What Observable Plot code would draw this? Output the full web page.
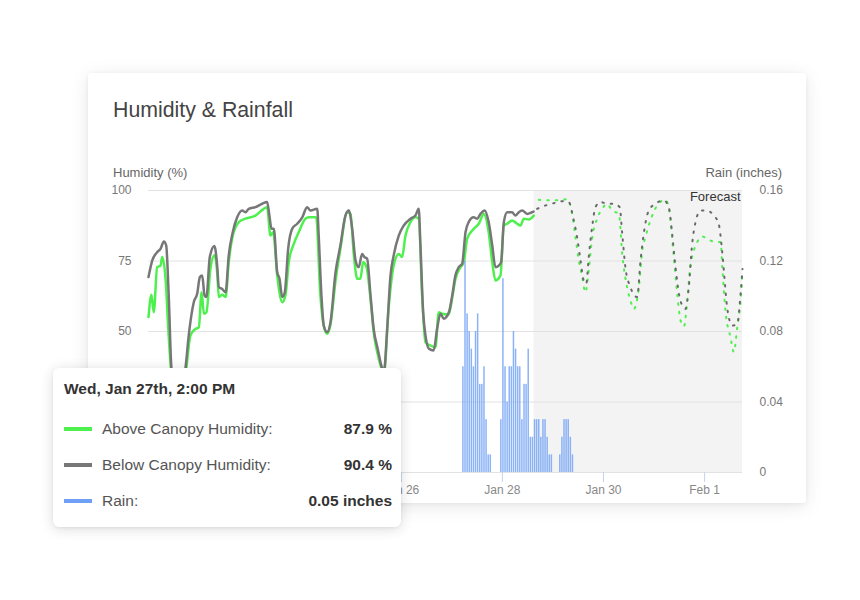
<!DOCTYPE html>
<html>
<head>
<meta charset="utf-8">
<script src="https://cdn.jsdelivr.net/npm/d3@7"></script>
<script src="https://cdn.jsdelivr.net/npm/@observablehq/plot@0.6"></script>
<style>
  html, body { margin: 0; padding: 0; background: #ffffff; }
  body { width: 860px; height: 600px; position: relative; overflow: hidden; font-family: "Liberation Sans", Arial, sans-serif; }
  .card { position: absolute; left: 88px; top: 73px; width: 718px; height: 430px; background: #fff; border-radius: 3px;
          box-shadow: 0 3px 18px rgba(0,0,0,0.10), 0 1px 4px rgba(0,0,0,0.05); }
  .title { position: absolute; left: 113px; top: 98px; font-size: 21.3px; color: #444; white-space: nowrap; }
  .axlab { position: absolute; top: 165px; font-size: 13px; color: #666; white-space: nowrap; }
  #chart { position: absolute; left: 88px; top: 150px; }
  .tip { position: absolute; left: 53px; top: 368px; width: 348px; height: 159px; background: #fff; border-radius: 6px;
         box-shadow: 0 2px 14px rgba(0,0,0,0.14), 0 1px 3px rgba(0,0,0,0.06); }
  .tip .head { position: absolute; left: 11px; top: 12px; font-size: 15.5px; font-weight: bold; color: #333; white-space: nowrap; }
  .tip .row { position: absolute; left: 11px; width: 328px; height: 20px; }
  .tip .sw { position: absolute; left: 0; top: 8px; width: 28px; height: 4px; }
  .tip .lab { position: absolute; left: 38px; top: 1px; font-size: 15.5px; color: #555; white-space: nowrap; }
  .tip .val { position: absolute; right: 0; top: 1px; font-size: 15.5px; font-weight: bold; color: #333; white-space: nowrap; }
</style>
</head>
<body>
<div class="card"></div>
<div class="title">Humidity &amp; Rainfall</div>
<div class="axlab" style="left:113px">Humidity (%)</div>
<div class="axlab" style="right:78px">Rain (inches)</div>
<div id="chart"></div>
<div class="tip" id="tip"></div>
<script>
// ---- data (hours since Jan 21, 2021 00:00) ----
const startDate = new Date(2021, 0, 21, 0, 0);
const endHour = 282;
const forecastStartHour = 183;

const aboveObserved = [[0,55.1],[1.4,63],[2.5,56.8],[4.1,72.8],[5.7,73.4],[6.5,76.4],[8.1,68.7],[9.4,50.9],[11,34],[13.5,27],[16,29],[17.8,36],[19.9,48.6],[22.3,50.9],[23.9,51.5],[25.2,63.9],[26.3,56.3],[27.5,56.8],[29.4,72.2],[31.3,77],[32.6,71],[33.4,62.2],[35,63],[36.6,62.2],[38.1,74.6],[40,84],[42.9,88.8],[46,90],[50.8,91.1],[54.7,93.5],[56.3,94.1],[57.9,84],[59.2,85.2],[61.1,69.9],[63.5,60.4],[65,62.8],[66.6,74.6],[69,81.1],[71.3,85.2],[74.5,90],[76.1,90.5],[79.6,90.5],[81.6,62.8],[83.2,52],[84.8,49.2],[86.4,52.5],[88.8,68],[91.1,79.3],[94.3,92.3],[95.9,91.7],[97.5,77],[99.1,68.7],[100.6,68.7],[101.9,74.6],[103.5,72.8],[105.4,61.6],[106.9,49.8],[108.8,42],[110.9,36.5],[111.8,35.5],[114.1,59.2],[116.4,73.4],[118.8,77.5],[120.4,76.4],[122,84],[124.4,88.8],[126.7,90.5],[128.3,90],[129.9,62.8],[131.5,46.2],[133.9,45],[136.2,44.4],[137.8,56.8],[139.4,56.3],[142.5,56],[144.2,62],[145.7,68.5],[148.1,72.8],[149.7,74.6],[151.3,82.9],[154.4,86.4],[156.8,88.2],[159.2,91.7],[161.5,85.2],[163.2,74.6],[164.7,68.1],[167.1,69.9],[168.7,87.6],[170.3,88.2],[172.6,89.4],[175,88.2],[176.6,87.6],[178.2,90],[180.5,89.7],[182.9,91.1]];

const belowObserved = [[0,69.3],[1.8,75.2],[4.1,78.1],[5.7,79.3],[7.3,81.9],[8.4,80.5],[9.6,62.8],[10.9,36.9],[13,29],[15,28],[17.6,37.3],[19.1,48.6],[21.5,60.4],[23.1,63.4],[24.4,69.3],[25.5,69.9],[26.6,62.8],[27.5,62.2],[29.1,76.4],[31.3,80.3],[32.6,73.4],[33.4,65.7],[35,65.1],[36.6,63.9],[38.1,77],[40,85.2],[42.1,90.5],[44.5,92.9],[46,92.3],[47.6,93.5],[50.8,94.1],[54,95.3],[56.3,95.9],[57.4,91.1],[58.4,86.4],[59.5,86.4],[61.1,71],[62.2,68.7],[63.5,62.2],[64.7,63.9],[66.3,79.3],[68.2,86.4],[70.6,88.2],[73,90.5],[75.3,94.1],[76.9,92.9],[80.1,93.5],[80.8,84],[82.1,62.8],[83.2,52.1],[84.8,49.8],[86.4,53.3],[88.8,71],[91.1,80.5],[93.5,91.1],[95.1,92.9],[96.7,86.4],[98.3,75.2],[99.8,72.8],[101.4,77.5],[102.5,76.4],[103.8,75.8],[105.4,62.8],[106.9,50.9],[108.8,43.9],[110.9,37],[111.8,36],[113.3,50.9],[114.9,69.9],[116.4,77],[118.8,84],[121.2,87.6],[124.4,90],[126.7,91.1],[128.3,93.5],[129.1,80.5],[130.4,56.8],[131.5,48.6],[133.1,43.9],[135.4,43.3],[137,50.9],[138.6,56.3],[140.2,54.5],[142.6,56.8],[144.2,62.8],[145.7,69.9],[147.3,72.8],[148.9,74],[150.5,85.2],[152,88.8],[154.4,90.5],[156,90],[157.6,91.7],[159.6,92.9],[161.5,88.8],[163.2,80.5],[164.7,72.8],[166.3,73.4],[167.4,74.6],[168.7,88.8],[170.3,92.3],[172.6,92.3],[174.2,91.1],[175.8,92.3],[177.4,92.9],[179.8,91.7],[182.1,92.3],[182.8,92.5]];

const aboveForecast = [[185.3,96.7],[189.3,96.5],[195.6,96.5],[198.8,97],[201.1,91.7],[202.7,83.4],[204.3,75.2],[205.9,69.3],[207.4,63.9],[209,71.6],[210.6,82.9],[213,90],[215.4,93.5],[217.7,95.3],[220.1,92.9],[223.3,91.7],[224.9,77.5],[227.2,65.7],[228.8,61],[230.4,58],[232.8,65.7],[234.4,78.7],[235.9,83.4],[238.3,89.4],[241.5,94.7],[245.4,96.7],[247.5,91.7],[249.1,78.7],[251,63.4],[252.6,53.9],[254.2,51.8],[255.8,61],[257,71.6],[258.9,78.7],[260.5,81.7],[262.8,83.7],[266,82.5],[269.2,81.7],[271.6,81.7],[272.4,72.8],[273.9,57.4],[276.3,48],[277.9,42.7],[279.5,51.5],[281.1,61],[282,71.6]];

const belowForecast = [[184.5,93.5],[188.5,94.7],[192.4,95.5],[195.6,96.2],[199.5,95.9],[201.9,89.4],[203.5,83.4],[205.1,75.2],[206.6,68.1],[207.8,66.9],[209,76.4],[210.6,87],[212.2,94.1],[214.6,95.9],[217.7,95.3],[220.9,95.3],[223.7,94.1],[224.9,84.6],[226.4,72.8],[228.8,65.7],[232,62.2],[233.6,75.2],[235.1,84.6],[237.5,92.9],[240.7,95.3],[244.6,96.5],[247,94.1],[248.6,84.6],[250.2,72.8],[252.5,61],[254.9,58],[256.5,65.7],[258.1,81.1],[259.7,88.8],[262.1,92.9],[265.2,92.9],[268.4,91.1],[270.7,88.2],[272.3,78.7],[273.4,69.3],[274.7,58.6],[277.1,52.1],[279.5,52.7],[281.1,63.4],[282,72.2]];

// hourly rain (inches): three storms, listed by start hour
const rainStorm1Start = 149;
const rainStorm1 = [0.06,0.12,0.09,0.08,0.07,0.06,0.08,0.09,0.05,0.05,0.06,0.03,0.01,0.01];
const rainStorm2Start = 167;
const rainStorm2 = [0.03,0.11,0.06,0.04,0.06,0.06,0.08,0.07,0.06,0.06,0.03,0.05,0.05,0.07,0.02,0.02,0.03,0.03,0.03,0.02,0.03,0.03,0.02,0.01,0.01];
const rainStorm3Start = 195;
const rainStorm3 = [0.01,0.02,0.03,0.03,0.03,0.02,0.01];

const gridTicks = [0, 25, 50, 75, 100];
const humidityLabelTicks = [50, 75, 100];          // 0 and 25 sit under the tooltip
const rainMax = 0.16;
const xTickDates = ["2021-01-22","2021-01-24","2021-01-26","2021-01-28","2021-01-30","2021-02-01"];
const xLabelDates = ["2021-01-26","2021-01-28","2021-01-30","2021-02-01"]; // earlier labels sit under the tooltip

const tooltipTitle = "Wed, Jan 27th, 2:00 PM";
const tooltipRows = [
  {label: "Above Canopy Humidity:", value: "87.9 %", color: "#4ef04e"},
  {label: "Below Canopy Humidity:", value: "90.4 %", color: "#777777"},
  {label: "Rain:", value: "0.05 inches", color: "#6fa0f6"}
];

// ---- build ----
const T = h => new Date(startDate.getTime() + h * 3600e3);
const toPts = arr => arr.map(([h, v]) => ({t: T(h), v}));
const rain = [];
[[rainStorm1Start, rainStorm1],[rainStorm2Start, rainStorm2],[rainStorm3Start, rainStorm3]].forEach(([s, vals]) =>
  vals.forEach((v, i) => rain.push({h: s + i, v})));
const toHum = r => r / rainMax * 100;
const parseDay = s => { const [y,m,d] = s.split("-").map(Number); return new Date(y, m-1, d); };
const xTicks = xTickDates.map(parseDay);
const xLabels = xLabelDates.map(parseDay);
const fmt = d3.timeFormat("%b %-d");

const green = "#4ef04e", gray = "#777777";

const chart = Plot.plot({
  width: 718,
  height: 352,
  marginLeft: 60,
  marginRight: 64,
  marginTop: 40,
  marginBottom: 30,
  style: {fontFamily: "'Liberation Sans', Arial, sans-serif", fontSize: "12px", background: "transparent", overflow: "visible"},
  x: {type: "time", domain: [T(0), T(endHour)]},
  y: {domain: [0, 100]},
  marks: [
    Plot.rect([{a: T(forecastStartHour), b: T(endHour)}], {x1: "a", x2: "b", y1: 0, y2: 100, fill: "#f3f3f3"}),
    Plot.gridY(gridTicks, {stroke: "#e2e2e2", strokeOpacity: 1, strokeWidth: 1}),
    Plot.axisY(humidityLabelTicks, {anchor: "left", tickSize: 0, tickPadding: 17, label: null, fill: "#777", fontSize: 12}),
    Plot.axisY(gridTicks, {anchor: "right", tickSize: 0, tickPadding: 17, label: null, fill: "#777", fontSize: 12,
      tickFormat: d => d === 0 ? "0" : (d / 100 * rainMax).toFixed(2)}),
    Plot.axisX(xTicks, {anchor: "bottom", tickSize: 10, tickPadding: 3, label: null, tickFormat: () => "", stroke: "#c6d2ee"}),
    Plot.axisX(xLabels, {anchor: "bottom", tickSize: 0, tickPadding: 13, label: null, tickFormat: fmt, fill: "#888", fontSize: 12}),
    Plot.line(toPts(aboveObserved), {x: "t", y: "v", stroke: green, strokeWidth: 2.5, curve: "monotone-x"}),
    Plot.line(toPts(belowObserved), {x: "t", y: "v", stroke: gray, strokeWidth: 2.5, curve: "monotone-x"}),
    Plot.line(toPts(aboveForecast), {x: "t", y: "v", stroke: green, strokeWidth: 2, strokeDasharray: "1.5,7", curve: "monotone-x"}),
    Plot.line(toPts(belowForecast), {x: "t", y: "v", stroke: "#6a6a6a", strokeWidth: 2, strokeDasharray: "1.5,7", curve: "monotone-x"}),
    Plot.rectY(rain, {x1: d => T(d.h + 0.15), x2: d => T(d.h + 0.85), y: d => toHum(d.v), fill: "#76a5f6", fillOpacity: 0.85}),
    Plot.text(["Forecast"], {frameAnchor: "top-right", dx: -2, dy: 1, lineAnchor: "top", fontSize: 13, fill: "#333"})
  ]
});
document.getElementById("chart").appendChild(chart);

// tooltip
const tip = document.getElementById("tip");
const head = document.createElement("div");
head.className = "head"; head.textContent = tooltipTitle; tip.appendChild(head);
tooltipRows.forEach((r, i) => {
  const row = document.createElement("div");
  row.className = "row"; row.style.top = (51 + i * 36) + "px";
  row.innerHTML = `<div class="sw" style="background:${r.color}"></div><div class="lab"></div><div class="val"></div>`;
  row.querySelector(".lab").textContent = r.label;
  row.querySelector(".val").textContent = r.value;
  tip.appendChild(row);
});
</script>
</body>
</html>
